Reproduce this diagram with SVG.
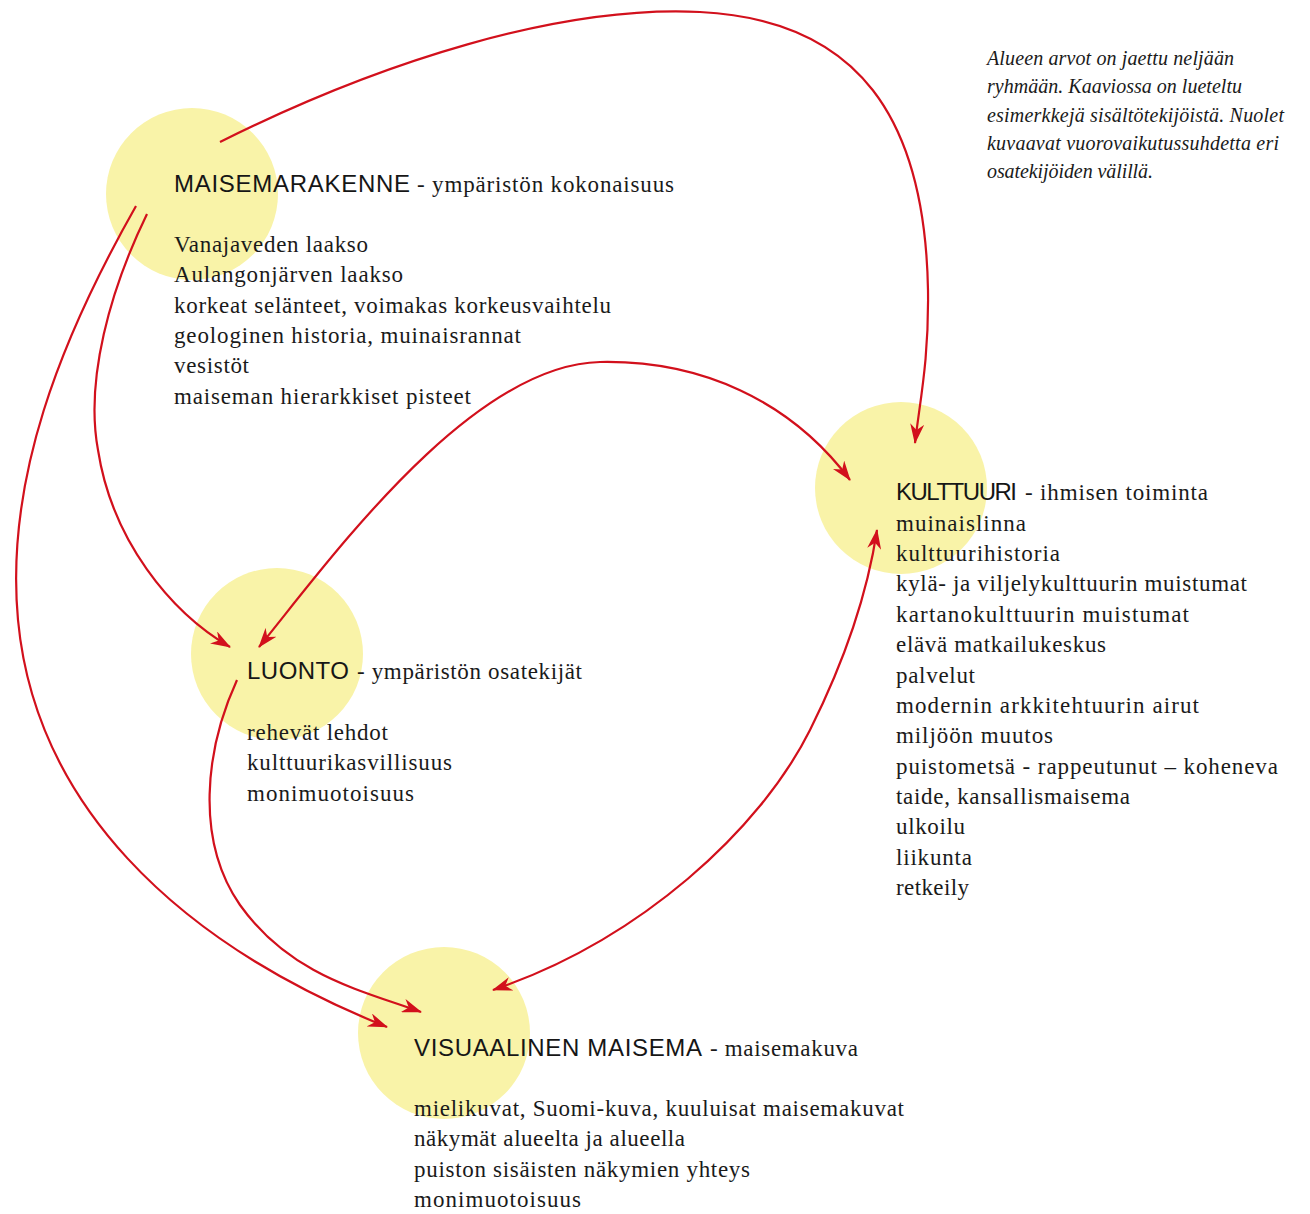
<svg xmlns="http://www.w3.org/2000/svg" width="1310" height="1214" viewBox="0 0 1310 1214">
<style>
.circ{fill:#F9F3A8;}
.hd{font-family:"Liberation Sans",Arial,sans-serif;font-size:24px;fill:#161616;}
.sub{font-family:"Liberation Serif","Times New Roman",serif;font-size:23px;fill:#1a1a1a;}
.bd{font-family:"Liberation Serif","Times New Roman",serif;font-size:23px;fill:#1a1a1a;}
.note{font-family:"Liberation Serif","Times New Roman",serif;font-style:italic;font-size:20px;fill:#1a1a1a;}
.con{fill:none;stroke:#D2101C;stroke-width:2.2;}
</style>
<defs>
<marker id="ah" viewBox="0 0 20 14" refX="19" refY="7" markerWidth="20" markerHeight="14" markerUnits="userSpaceOnUse" orient="auto-start-reverse">
<path d="M0,0 L20,7 L0,14 L6,7 z" fill="#D2101C"/>
</marker>
</defs>
<rect x="0" y="0" width="1310" height="1214" fill="#ffffff"/>

<g id="node-maisemarakenne">
<circle class="circ" cx="192" cy="194" r="86"/>
<text class="hd" x="174" y="192" textLength="236">MAISEMARAKENNE</text>
<text class="sub" x="417" y="192" textLength="257">- ympäristön kokonaisuus</text>
<text class="bd" x="174" y="252" textLength="194">Vanajaveden laakso</text>
<text class="bd" x="174" y="282.3" textLength="229">Aulangonjärven laakso</text>
<text class="bd" x="174" y="312.6" textLength="437">korkeat selänteet, voimakas korkeusvaihtelu</text>
<text class="bd" x="174" y="343" textLength="347">geologinen historia, muinaisrannat</text>
<text class="bd" x="174" y="373.3" textLength="75">vesistöt</text>
<text class="bd" x="174" y="403.6" textLength="297">maiseman hierarkkiset pisteet</text>
</g>

<g id="node-kulttuuri">
<circle class="circ" cx="901" cy="488" r="86"/>
<text class="hd" x="896" y="500" textLength="121">KULTTUURI</text>
<text class="sub" x="1025" y="500" textLength="183">- ihmisen toiminta</text>
<text class="bd" x="896" y="530.7" textLength="130">muinaislinna</text>
<text class="bd" x="896" y="561" textLength="164">kulttuurihistoria</text>
<text class="bd" x="896" y="591.4" textLength="351">kylä- ja viljelykulttuurin muistumat</text>
<text class="bd" x="896" y="621.8" textLength="293">kartanokulttuurin muistumat</text>
<text class="bd" x="896" y="652.1" textLength="210">elävä matkailukeskus</text>
<text class="bd" x="896" y="682.5" textLength="79">palvelut</text>
<text class="bd" x="896" y="712.9" textLength="303">modernin arkkitehtuurin airut</text>
<text class="bd" x="896" y="743.2" textLength="157">miljöön muutos</text>
<text class="bd" x="896" y="773.6" textLength="382">puistometsä - rappeutunut – koheneva</text>
<text class="bd" x="896" y="804" textLength="234">taide, kansallismaisema</text>
<text class="bd" x="896" y="834.3" textLength="69">ulkoilu</text>
<text class="bd" x="896" y="864.7" textLength="76">liikunta</text>
<text class="bd" x="896" y="895" textLength="73">retkeily</text>
</g>

<g id="node-luonto">
<circle class="circ" cx="277" cy="654" r="86"/>
<text class="hd" x="247" y="679" textLength="102">LUONTO</text>
<text class="sub" x="357" y="679" textLength="225">- ympäristön osatekijät</text>
<text class="bd" x="247" y="740" textLength="141">rehevät lehdot</text>
<text class="bd" x="247" y="770.4" textLength="205">kulttuurikasvillisuus</text>
<text class="bd" x="247" y="800.7" textLength="167">monimuotoisuus</text>
</g>

<g id="node-visuaalinen">
<circle class="circ" cx="444" cy="1033" r="86"/>
<text class="hd" x="414" y="1055.5" textLength="288">VISUAALINEN MAISEMA</text>
<text class="sub" x="710" y="1055.5" textLength="148">- maisemakuva</text>
<text class="bd" x="414" y="1116" textLength="490">mielikuvat, Suomi-kuva, kuuluisat maisemakuvat</text>
<text class="bd" x="414" y="1146.4" textLength="271">näkymät alueelta ja alueella</text>
<text class="bd" x="414" y="1176.7" textLength="336">puiston sisäisten näkymien yhteys</text>
<text class="bd" x="414" y="1207" textLength="167">monimuotoisuus</text>
</g>

<g id="note">
<text class="note" x="987" y="65" textLength="247">Alueen arvot on jaettu neljään</text>
<text class="note" x="987" y="93.3" textLength="255">ryhmään. Kaaviossa on lueteltu</text>
<text class="note" x="987" y="121.6" textLength="297">esimerkkejä sisältötekijöistä. Nuolet</text>
<text class="note" x="987" y="150" textLength="292">kuvaavat vuorovaikutussuhdetta eri</text>
<text class="note" x="987" y="178.3" textLength="166">osatekijöiden välillä.</text>
</g>

<g id="connectors">
<path class="con" d="M220,142 C380,62 560,5 700,12 C860,20 925,120 928,290 C929,360 920,400 915,443" marker-end="url(#ah)"/>
<path class="con" d="M147,214 C110,290 85,380 98,450 C112,540 170,612 230,647" marker-end="url(#ah)"/>
<path class="con" d="M136,206 C60,340 5,480 18,620 C35,800 170,940 387,1027" marker-end="url(#ah)"/>
<path class="con" d="M259,647 C330,560 470,365 600,362 C700,360 790,400 850,480" marker-start="url(#ah)" marker-end="url(#ah)"/>
<path class="con" d="M237,680 C205,750 195,840 240,905 C290,975 360,990 421,1012" marker-end="url(#ah)"/>
<path class="con" d="M493,990 C640,940 760,830 810,730 C845,660 868,590 877,530" marker-start="url(#ah)" marker-end="url(#ah)"/>
</g>
</svg>
